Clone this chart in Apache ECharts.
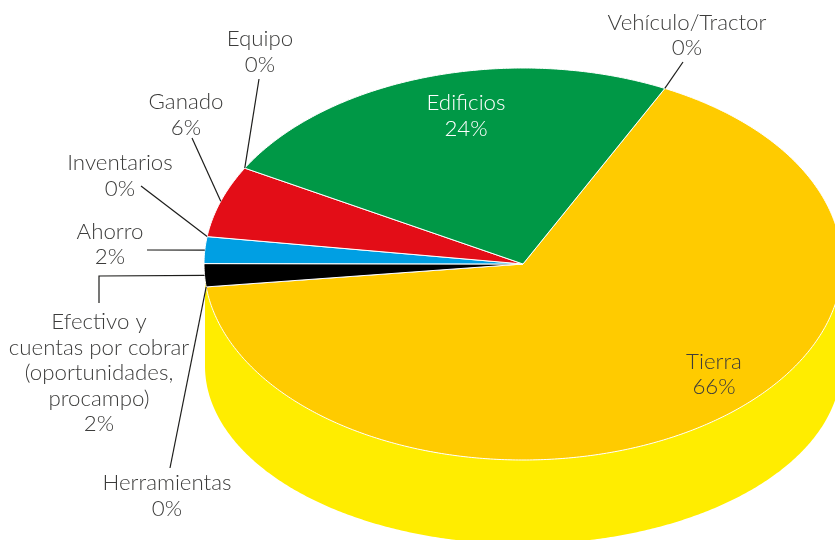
<!DOCTYPE html>
<html>
<head>
    <meta charset="utf-8">
    <title>Distribución de activos</title>
    <script src="https://cdn.jsdelivr.net/npm/echarts@6/dist/echarts.min.js"></script>
    <style>
        body { margin: 0; padding: 0; overflow: hidden; background: #fff; }
        #main { width: 835px; height: 540px; }
    </style>
</head>
<body>
    <div id="main"></div>
    <script>
        // datos, en sentido horario desde la arista derecha de Tierra
        const categories = ['Tierra', 'Herramientas', 'Efectivo y\ncuentas por cobrar\n(oportunidades,\nprocampo)', 'Ahorro', 'Inventarios', 'Ganado', 'Equipo', 'Edificios', 'Vehículo/Tractor'];
        const shares = [65.8, 0, 1.9, 2.2, 0, 5.9, 0, 24.2, 0];
        const colors = ['#ffcb00', '#000000', '#000000', '#009fe3', '#000000', '#e30d17', '#000000', '#009846', '#000000'];
        const wallColor = '#ffed00';

        // geometria de la elipse
        const cx = 523, cy = 264, rx = 319, ry = 196;
        const wallCy = 366, wallRx = 318, wallRy = 178;
        const startAngle = 26.4;

        // centro x e y de la etiqueta
        const labelPos = [[714, 374.5], [167, 496], [99, 373], [110, 244.5], [120, 176], [186, 115], [260, 52], [466, 116], [687, 35.5]];
        const labelColor = ['#3c3c3b', '#3c3c3b', '#3c3c3b', '#3c3c3b', '#3c3c3b', '#3c3c3b', '#3c3c3b', '#ffffff', '#3c3c3b'];
        // puntos intermedios de cada guia, desde el borde hacia la etiqueta
        const leaderPts = [null, [[170, 468]], [[99, 276], [99, 303]], [[147, 250]], [[141, 186]], [[192, 138]], [[259, 79]], null, [[683, 62]]];

        const total = shares.reduce((a, b) => a + b, 0);
        const bounds = [];
        shares.reduce((acc, v) => {
            bounds.push([acc, acc + v / total * 360]);
            return acc + v / total * 360;
        }, startAngle);

        function rim(deg, y0, r, rh) {
            const t = deg * Math.PI / 180;
            return [cx + (rh === undefined ? rx : rh) * Math.sin(t), (y0 === undefined ? cy : y0) - (r === undefined ? ry : r) * Math.cos(t)];
        }

        function arc(a, b, y0, r, rh) {
            const pts = [];
            const n = Math.max(2, Math.ceil(Math.abs(b - a) * 2));
            for (let i = 0; i <= n; i++) pts.push(rim(a + (b - a) * i / n, y0, r, rh));
            return pts;
        }

        const option = {
            animation: false,
            tooltip: { show: false },
            series: [{
                type: 'custom',
                coordinateSystem: 'none',
                silent: true,
                data: [shares[0]],
                renderItem: function () {
                    // pared lateral
                    return {
                        type: 'polygon',
                        shape: { points: arc(90, 270, wallCy, wallRy, wallRx).concat(arc(270, 90, cy, ry, wallRx)) },
                        style: { fill: wallColor }
                    };
                }
            }, {
                type: 'custom',
                coordinateSystem: 'none',
                silent: true,
                z: 3,
                data: shares.map(v => [v]),
                renderItem: function (params, api) {
                    if (api.value(0) === 0) return null;
                    const b = bounds[params.dataIndex];
                    return {
                        type: 'polygon',
                        shape: { points: [[cx, cy]].concat(arc(b[0], b[1])) },
                        style: { fill: colors[params.dataIndex], stroke: '#ffffff', lineWidth: 1 }
                    };
                }
            }, {
                type: 'custom',
                coordinateSystem: 'none',
                silent: true,
                z: 4,
                data: shares.map(v => [v]),
                renderItem: function (params, api) {
                    const i = params.dataIndex;
                    const b = bounds[i];
                    const children = [];
                    if (leaderPts[i]) {
                        const start = rim((b[0] + b[1]) / 2);
                        children.push({
                            type: 'polyline',
                            shape: { points: [start].concat(leaderPts[i]) },
                            style: { fill: 'none', stroke: '#1d1d1b', lineWidth: 1.2 }
                        });
                    }
                    children.push({
                        type: 'text',
                        x: labelPos[i][0],
                        y: labelPos[i][1],
                        style: {
                            text: categories[i] + '\n' + Math.round(api.value(0)) + '%',
                            fontFamily: 'Lato',
                            fontWeight: 300,
                            fontSize: 22.3,
                            lineHeight: 25.5,
                            fill: labelColor[i],
                            align: 'center',
                            verticalAlign: 'middle'
                        }
                    });
                    return { type: 'group', children: children };
                }
            }]
        };

        const chart = echarts.init(document.getElementById('main'));
        chart.setOption(option);
    </script>
</body>
</html>
